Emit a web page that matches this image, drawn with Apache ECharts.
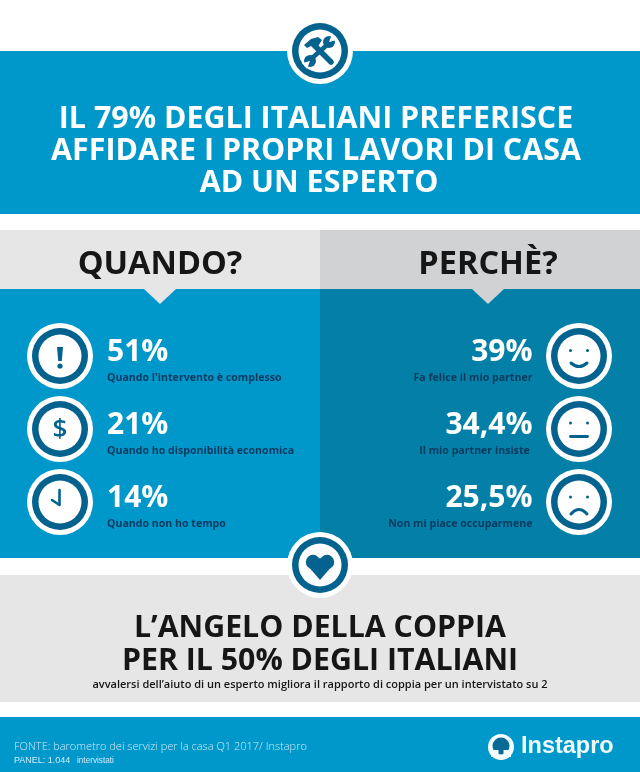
<!DOCTYPE html>
<html>
<head>
<meta charset="utf-8">
<title>Instapro</title>
<script src="https://cdn.jsdelivr.net/npm/echarts@6/dist/echarts.min.js"></script>
<style>
html,body{margin:0;padding:0;background:#fff;}
#main{width:640px;height:772px;}
</style>
</head>
<body>
<div id="main"></div>
<script>
// dati
var titleLines = ["IL 79% DEGLI ITALIANI PREFERISCE", "AFFIDARE I PROPRI LAVORI DI CASA", "AD UN ESPERTO"];
var whenTitle = "QUANDO?";
var whyTitle = "PERCHÈ?";
var whenValues = [51, 21, 14];
var whenLabels = ["Quando l'intervento è complesso", "Quando ho disponibilità economica", "Quando non ho tempo"];
var whenIcons = ["alert", "money", "clock"];
var whyValues = [39, 34.4, 25.5];
var whyLabels = ["Fa felice il mio partner", "Il mio partner insiste ", "Non mi piace occuparmene"];
var whyIcons = ["happy", "neutral", "sad"];
var bottomLines = ["L’ANGELO DELLA COPPIA", "PER IL 50% DEGLI ITALIANI"];
var bottomNote = "avvalersi dell’aiuto di un esperto migliora il rapporto di coppia per un intervistato su 2";
var sourceText = "FONTE: barometro dei servizi per la casa Q1 2017/ Instapro";
var panelText = "PANEL: 1.044";
var panelUnit = "intervistati";
var logoText = "Instapro";

var BLUE = "#0098cb", DARK = "#0480a8", RING = "#04628f", NAVY = "#0b3a5e", INK = "#161616";
var SANS = "'Open Sans', sans-serif";

function txt(text, x, y, size, weight, fill, align, family, z) {
    return {
        type: "text", z: z || 5,
        style: {
            text: text, x: x, y: y, fontSize: size, fontWeight: weight, fontFamily: family || SANS,
            fill: fill, align: align || "center", verticalAlign: "middle"
        }
    };
}
function disc(x, y, r, fill, z) {
    return {type: "circle", z: z || 5, shape: {cx: x, cy: y, r: r}, style: {fill: fill}};
}
function stroke(points, width, z) {
    return {
        type: "polyline", z: z || 5, shape: {points: points},
        style: {fill: null, stroke: RING, lineWidth: width, lineCap: "round", lineJoin: "round"}
    };
}
function curve(x1, x2, y, cy, z) {
    return {
        type: "bezierCurve", z: z || 5,
        shape: {x1: x1, y1: y, x2: x2, y2: y, cpx1: (x1 + x2) / 2, cpy1: cy},
        style: {fill: null, stroke: RING, lineWidth: 3, lineCap: "round"}
    };
}
// cerchio con anello
function badge(x, y, z) {
    return [disc(x, y, 33, "#fff", z), disc(x, y, 28, RING, z), disc(x, y, 21.5, "#fff", z)];
}
function glyph(kind, x, y) {
    switch (kind) {
    case "alert":
        return [
            {type: "polygon", z: 5, shape: {points: [[x - 3, y - 9], [x + 3, y - 9], [x + 1.8, y + 5], [x - 1.8, y + 5]]}, style: {fill: RING}},
            disc(x, y + 10, 2.6, RING)
        ];
    case "money":
        return [txt("$", x, y + 1, 26, 600, RING)];
    case "clock":
        return [stroke([[x - 0.5, y - 12], [x - 0.5, y + 3], [x - 8, y - 2]], 2.6)];
    case "happy":
        return [disc(x - 8.5, y - 5.5, 1.5, RING), disc(x + 8.5, y - 5.5, 1.5, RING), curve(x - 8, x + 8, y + 7, y + 14)];
    case "neutral":
        return [disc(x - 8.5, y - 6, 1.5, RING), disc(x + 8.5, y - 6, 1.5, RING), stroke([[x - 8.5, y + 7.5], [x + 8.5, y + 7.5]], 2.8)];
    case "sad":
        return [disc(x - 8.5, y - 5, 1.5, RING), disc(x + 8.5, y - 5, 1.5, RING), curve(x - 8, x + 8, y + 12, y + 3)];
    }
    return [];
}
function toolsIcon(x, y) {
    var z = 12;
    return [
        // martello
        stroke([[x - 7, y - 7], [x + 11, y + 11]], 5.5, z),
        {type: "polygon", z: z, shape: {points: [[x - 16, y - 6], [x - 9, y - 12], [x - 2, y - 14], [x + 2, y - 11], [x - 3, y - 3], [x - 7, y - 6], [x - 13, y - 3]]}, style: {fill: RING}},
        // chiave
        stroke([[x + 7, y - 6], [x - 9, y + 8]], 4.5, z),
        disc(x + 9, y - 9, 6, RING, z),
        {type: "polygon", z: z, shape: {points: [[x + 9, y - 9], [x + 12, y - 17], [x + 17, y - 11]]}, style: {fill: "#fff"}},
        disc(x - 10, y + 10, 6, RING, z),
        {type: "polygon", z: z, shape: {points: [[x - 10, y + 10], [x - 13, y + 18], [x - 18, y + 12]]}, style: {fill: "#fff"}}
    ];
}
function heartIcon(x, y) {
    return [
        disc(x - 7, y - 5, 7.2, RING, 12),
        disc(x + 7, y - 5, 7.2, RING, 12),
        {type: "polygon", z: 12, shape: {points: [[x - 13.8, y - 3], [x, y - 9], [x + 13.8, y - 3], [x, y + 13]]}, style: {fill: RING}}
    ];
}
function rect(x, y, w, h, fill, z) {
    return {type: "rect", z: z === undefined ? 1 : z, shape: {x: x, y: y, width: w, height: h}, style: {fill: fill}};
}
function pct(v) {
    return String(v).replace(".", ",") + "%";
}

// righe dei due pannelli
function renderRow(opts) {
    return function (params, api) {
        var i = api.value(1);
        var cy = api.coord([0, i])[1];
        var children = badge(opts.iconX, cy).concat(glyph(opts.icons[i], opts.iconX, cy));
        children.push(txt(pct(api.value(2)), opts.textX, cy - 4, 30, 700, "#fff", opts.align));
        children.push(txt(opts.labels[i], opts.textX, cy + 22, 10.6, 700, NAVY, opts.align));
        return {type: "group", children: children};
    };
}
function rowData(values) {
    var out = [];
    for (var i = 0; i < values.length; i++) {
        out.push([0, i, values[i]]);
    }
    return out;
}

var elements = [
    rect(0, 51, 640, 163, BLUE),
    rect(0, 230, 320, 59, "#e6e6e6"),
    rect(320, 230, 320, 59, "#d0d2d4"),
    rect(0, 289, 320, 269, BLUE),
    rect(320, 289, 320, 269, DARK),
    {type: "polygon", z: 1, shape: {points: [[144, 289], [176, 289], [160, 304]]}, style: {fill: "#e6e6e6"}},
    {type: "polygon", z: 1, shape: {points: [[472, 289], [504, 289], [488, 304]]}, style: {fill: "#d0d2d4"}},
    rect(0, 575, 640, 127, "#e6e6e6"),
    rect(0, 717, 640, 55, BLUE),
    txt(whenTitle, 160, 265, 32.5, 700, INK),
    txt(whyTitle, 488, 265, 32.5, 700, INK),
    txt(bottomLines[0], 320, 628, 30.3, 700, INK),
    txt(bottomLines[1], 320, 661, 30.3, 700, INK),
    txt(bottomNote, 320, 685, 11, 600, INK),
    txt(sourceText, 14, 747, 11, 300, "#cdeaf5", "left"),
    txt(panelText, 14, 760.5, 9, 400, "#cdeaf5", "left", "'Liberation Sans', sans-serif"),
    txt(panelUnit, 77, 760.5, 8.2, 400, "#cdeaf5", "left", "'Liberation Sans', sans-serif"),
    txt(logoText, 521, 747, 23.5, 700, "#eef9fd", "left", "'Liberation Sans', sans-serif"),
    disc(501, 747, 13, "#f2fbfe"),
    disc(501, 746, 8.5, "#0a6a96"),
    rect(491, 750, 7.5, 7, "#f2fbfe", 5),
    rect(503.5, 750, 7.5, 7, "#f2fbfe", 5)
];
var titleX = [316, 316, 319];
for (var t = 0; t < titleLines.length; t++) {
    elements.push(txt(titleLines[t], titleX[t], 119 + t * 32, 30.4, 700, "#fff"));
}
elements = elements.concat(badge(320, 51, 10), toolsIcon(320, 51));
elements = elements.concat(badge(320, 565, 10), heartIcon(320, 567));

var chart = echarts.init(document.getElementById("main"));
chart.setOption({
    animation: false,
    backgroundColor: "#fff",
    graphic: {elements: elements},
    grid: [
        {left: 0, width: 320, top: 319.5, height: 219},
        {left: 320, width: 320, top: 319.5, height: 219}
    ],
    xAxis: [
        {type: "value", gridIndex: 0, show: false, min: 0, max: 100},
        {type: "value", gridIndex: 1, show: false, min: 0, max: 100}
    ],
    yAxis: [
        {type: "category", gridIndex: 0, show: false, inverse: true, data: whenLabels},
        {type: "category", gridIndex: 1, show: false, inverse: true, data: whyLabels}
    ],
    series: [
        {
            type: "custom", xAxisIndex: 0, yAxisIndex: 0, z: 4, silent: true,
            data: rowData(whenValues),
            renderItem: renderRow({iconX: 60, textX: 107, align: "left", icons: whenIcons, labels: whenLabels})
        },
        {
            type: "custom", xAxisIndex: 1, yAxisIndex: 1, z: 4, silent: true,
            data: rowData(whyValues),
            renderItem: renderRow({iconX: 579, textX: 532.5, align: "right", icons: whyIcons, labels: whyLabels})
        }
    ]
});
</script>
</body>
</html>
